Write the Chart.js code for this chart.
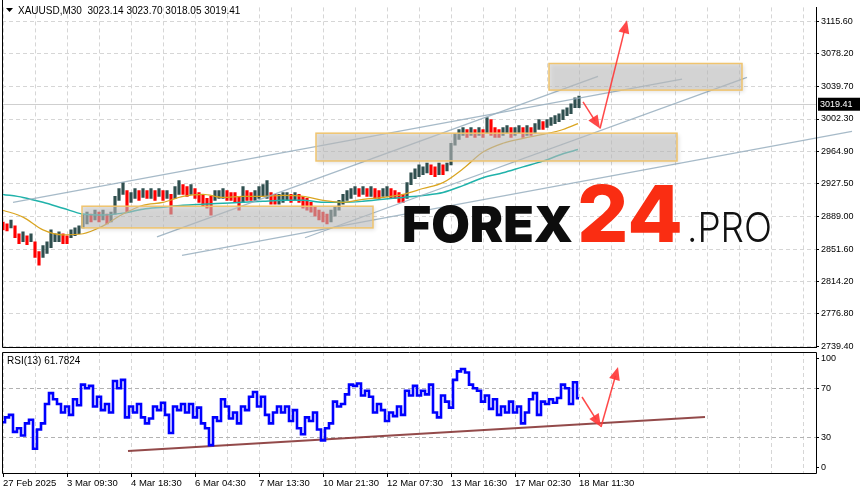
<!DOCTYPE html>
<html>
<head>
<meta charset="utf-8">
<script src="https://cdn.jsdelivr.net/npm/chart.js@4.4.1/dist/chart.umd.min.js"></script>
<style>
html, body { margin: 0; padding: 0; background: #fff; }
#wrap { position: relative; width: 863px; height: 494px; overflow: hidden; }
#priceChart { position: absolute; left: 0; top: 0; }
#rsiChart { position: absolute; left: 0; top: 349px; }
</style>
</head>
<body>
<div id="wrap">
  <canvas id="priceChart" width="863" height="356"></canvas>
  <canvas id="rsiChart" width="863" height="145"></canvas>
</div>
<script>
// one sample every 4 thirty-minute bars
const barStep = 4;
const priceHigh = [
  2883.0, 2880.8, 2885.3, 2878.5, 2869.4, 2871.6, 2867.1, 2869.4, 2860.2, 2848.8,
  2855.7, 2860.2, 2873.9, 2869.4, 2871.6, 2869.4, 2867.1, 2873.9, 2876.2, 2878.5,
  2892.2, 2894.4, 2892.2, 2896.7, 2894.4, 2896.7, 2892.2, 2894.4, 2912.7, 2921.8,
  2928.6, 2919.5, 2917.2, 2921.8, 2919.5, 2921.8, 2919.5, 2921.8, 2919.5, 2921.8,
  2919.5, 2919.5, 2915.0, 2924.1, 2930.9, 2926.4, 2924.1, 2926.4, 2921.8, 2917.2,
  2915.0, 2910.4, 2912.7, 2919.5, 2919.5, 2921.8, 2919.5, 2917.2, 2917.2, 2912.7,
  2924.1, 2919.5, 2917.2, 2919.5, 2924.1, 2926.4, 2930.9, 2917.2, 2915.0, 2915.0,
  2917.2, 2917.2, 2915.0, 2917.2, 2915.0, 2912.7, 2910.4, 2905.8, 2901.3, 2896.7,
  2894.4, 2892.2, 2896.7, 2901.3, 2908.1, 2915.0, 2919.5, 2921.8, 2924.1, 2921.8,
  2924.1, 2921.8, 2924.1, 2921.8, 2919.5, 2921.8, 2924.1, 2921.8, 2919.5, 2917.2,
  2915.0, 2928.6, 2940.0, 2944.6, 2949.2, 2946.9, 2951.4, 2949.2, 2946.9, 2951.4,
  2949.2, 2951.4, 2974.2, 2985.6, 2990.2, 2992.5, 2990.2, 2992.5, 2990.2, 2992.5,
  2990.2, 3003.9, 3001.6, 2992.5, 2990.2, 2992.5, 2994.8, 2992.5, 2992.5, 2994.8,
  2992.5, 2994.8, 2992.5, 2997.0, 3001.6, 2999.3, 3001.6, 3003.9, 3006.2, 3008.4,
  3013.0, 3015.3, 3019.8, 3026.7, 3029.0
];
const priceLow = [
  2873.9, 2872.8, 2876.2, 2864.8, 2857.9, 2860.2, 2856.8, 2860.2, 2842.0, 2832.9,
  2842.0, 2846.6, 2853.4, 2860.2, 2860.2, 2857.9, 2857.9, 2864.8, 2867.1, 2869.4,
  2876.2, 2880.8, 2883.0, 2885.3, 2883.0, 2885.3, 2880.8, 2883.0, 2892.2, 2908.1,
  2915.0, 2894.4, 2905.8, 2910.4, 2908.1, 2911.5, 2910.4, 2910.4, 2908.1, 2912.7,
  2908.1, 2910.4, 2892.2, 2910.4, 2915.0, 2915.0, 2912.7, 2915.0, 2910.4, 2905.8,
  2901.3, 2899.0, 2891.0, 2908.1, 2910.4, 2910.4, 2908.1, 2908.1, 2905.8, 2896.7,
  2905.8, 2908.1, 2908.1, 2908.1, 2910.4, 2912.7, 2910.4, 2903.6, 2903.6, 2903.6,
  2905.8, 2908.1, 2905.8, 2908.1, 2905.8, 2899.0, 2896.7, 2894.4, 2889.9, 2885.3,
  2883.0, 2880.8, 2883.0, 2889.9, 2896.7, 2903.6, 2908.1, 2910.4, 2915.0, 2912.7,
  2915.0, 2912.7, 2912.7, 2910.4, 2910.4, 2912.7, 2912.7, 2910.4, 2910.4, 2905.8,
  2905.8, 2910.4, 2926.4, 2933.2, 2935.5, 2937.8, 2940.0, 2937.8, 2935.5, 2937.8,
  2937.8, 2942.3, 2949.2, 2972.0, 2978.8, 2983.4, 2981.1, 2983.4, 2981.1, 2983.4,
  2981.1, 2985.6, 2983.4, 2981.1, 2981.1, 2983.4, 2985.6, 2981.1, 2983.4, 2985.6,
  2981.1, 2983.4, 2983.4, 2985.6, 2990.2, 2990.2, 2992.5, 2994.8, 2997.0, 2999.3,
  3001.6, 3006.2, 3008.4, 3015.3, 3015.3
];
const rsiValues = [
  42, 46, 48, 34, 37, 31, 41, 44, 20, 36,
  41, 57, 66, 61, 57, 50, 55, 48, 61, 56,
  73, 70, 72, 55, 63, 52, 57, 50, 76, 70,
  77, 46, 55, 50, 57, 46, 41, 45, 55, 52,
  58, 48, 33, 55, 52, 57, 50, 57, 46, 54,
  41, 37, 23, 46, 43, 61, 55, 45, 50, 41,
  55, 52, 63, 67, 55, 63, 48, 41, 50, 55,
  50, 55, 43, 52, 37, 32, 46, 43, 50, 36,
  27, 37, 41, 59, 55, 57, 65, 73, 72, 74,
  64, 68, 63, 50, 57, 52, 43, 50, 47, 55,
  48, 68, 64, 72, 64, 68, 65, 73, 50, 46,
  64, 59, 54, 77, 84, 86, 83, 73, 70, 68,
  59, 64, 53, 61, 48, 55, 50, 59, 50, 55,
  41, 50, 61, 66, 48, 59, 57, 61, 58, 62,
  73, 70, 57, 75, 61.78
];

// moving averages, sampled on these bars
const maBars = [0, 20, 40, 60, 80, 100, 120, 140, 160, 180, 200, 220, 240, 260, 280,
  300, 320, 340, 360, 380, 400, 420, 440, 460, 480, 500, 520, 540, 560, 575];
const maFast = [2896.7, 2888.7, 2873.9, 2868.2, 2869.4, 2878.5, 2892.2, 2902.4, 2905.8, 2912.7,
  2915.0, 2911.5, 2912.7, 2912.7, 2913.8, 2912.7, 2908.1, 2905.8, 2909.3, 2911.5,
  2915.0, 2921.8, 2928.6, 2944.6, 2964.0, 2974.2, 2979.9, 2984.5, 2990.2, 2997.0];
const maSlow = [2915.0, 2911.5, 2905.8, 2899.0, 2892.2, 2891.0, 2893.3, 2897.9, 2900.1, 2902.4,
  2903.6, 2904.7, 2905.8, 2907.0, 2908.1, 2908.1, 2905.8, 2905.8, 2907.0, 2909.3,
  2911.5, 2913.8, 2917.2, 2925.2, 2934.3, 2940.0, 2946.9, 2953.5, 2962.0, 2966.9];

// price axis and time axis
const priceTicks = [2739.40, 2776.80, 2814.20, 2851.60, 2889.00, 2927.50, 2964.90, 3002.30, 3039.70, 3078.20, 3115.60];
const dateLabels = ['27 Feb 2025', '3 Mar 09:30', '4 Mar 18:30', '6 Mar 04:30', '7 Mar 13:30',
  '10 Mar 21:30', '12 Mar 07:30', '13 Mar 16:30', '17 Mar 02:30', '18 Mar 11:30'];
const gridStep = 32;
const rsiTicks = [0, 30, 70, 100];
const rsiLevels = [30, 70];

// quote line
const quote = [3023.14, 3023.70, 3018.05, 3019.41];
const rsiLast = 61.7824;

// drawn objects
const zoneStart = [79, 313, 546];
const zoneEnd = [370, 674, 739];
const zoneTop = [2901.3, 2985.9, 3066.6];
const zoneBottom = [2876.2, 2953.7, 3035.8];
const trendStart = [10, 154, 179, 302];
const trendEnd = [679, 595, 849, 744];
const trendFrom = [2905.8, 2865.9, 2844.3, 2864.8];
const trendTo = [3048.4, 3051.8, 2987.9, 3050.6];
const arrowBars = [580, 597, 624];
const arrowPrices = [3022.1, 2991.3, 3116.7];
const rsiArrowBars = [579, 598, 615];
const rsiArrowValues = [62.8, 38.0, 87.6];
const rsiTrendBars = [125, 702];
const rsiTrendValues = [18.2, 46.3];

const UP = '#2f4f4f';
const DOWN = '#ff0000';
const GRID = '#d6d6d6';
const ARROW = 'rgba(255,58,58,0.92)';
const FONT = 'Liberation Sans';

const gridBars = [];
for (let b = 0; b <= 800; b += gridStep) gridBars.push(b);

function labelFor(v) {
  const j = v / (gridStep * 2);
  return Number.isInteger(j) && j < dateLabels.length ? dateLabels[j] : '';
}

const candleData = priceHigh.map((hi, k) => ({ x: k * barStep, y: [priceLow[k], hi] }));
const candleColors = priceHigh.map((hi, k) => {
  if (k === 0) return DOWN;
  const mid = (hi + priceLow[k]) / 2;
  const prev = (priceHigh[k - 1] + priceLow[k - 1]) / 2;
  return mid >= prev ? UP : DOWN;
});

function drawArrow(ctx, x1, y1, x2, y2) {
  const a = Math.atan2(y2 - y1, x2 - x1);
  const len = 13, half = 5.5;
  ctx.save();
  ctx.strokeStyle = ARROW;
  ctx.fillStyle = ARROW;
  ctx.lineWidth = 1.5;
  ctx.beginPath();
  ctx.moveTo(x1, y1);
  ctx.lineTo(x2 - Math.cos(a) * len * 0.7, y2 - Math.sin(a) * len * 0.7);
  ctx.stroke();
  ctx.beginPath();
  ctx.moveTo(x2, y2);
  ctx.lineTo(x2 - len * Math.cos(a) + half * Math.sin(a), y2 - len * Math.sin(a) - half * Math.cos(a));
  ctx.lineTo(x2 - len * Math.cos(a) - half * Math.sin(a), y2 - len * Math.sin(a) + half * Math.cos(a));
  ctx.closePath();
  ctx.fill();
  ctx.restore();
}

function fitText(ctx, text, font, color, x, base, width) {
  ctx.save();
  ctx.font = font;
  const w = ctx.measureText(text).width;
  ctx.translate(x, base);
  ctx.scale(width / w, 1);
  ctx.fillStyle = color;
  ctx.textBaseline = 'alphabetic';
  ctx.fillText(text, 0, 0);
  ctx.restore();
}

function frame(chart, top) {
  const { ctx, chartArea: a } = chart;
  ctx.save();
  ctx.strokeStyle = '#000';
  ctx.lineWidth = 1;
  ctx.beginPath();
  ctx.moveTo(a.left + 0.5, top ? a.top + 0.5 : 0);
  ctx.lineTo(a.left + 0.5, a.bottom + 0.5);
  ctx.lineTo(a.right + 0.5, a.bottom + 0.5);
  ctx.lineTo(a.right + 0.5, a.top + 0.5);
  if (top) ctx.lineTo(a.left + 0.5, a.top + 0.5);
  ctx.stroke();
  ctx.restore();
}

const priceDecor = {
  id: 'priceDecor',
  beforeDatasetsDraw(chart) {
    const { ctx, chartArea: a, scales: { y } } = chart;
    const py = Math.round(y.getPixelForValue(quote[3])) + 0.5;
    ctx.save();
    ctx.strokeStyle = '#cfcfcf';
    ctx.lineWidth = 1;
    ctx.beginPath();
    ctx.moveTo(a.left, py);
    ctx.lineTo(a.right, py);
    ctx.stroke();
    ctx.restore();
  },
  afterDatasetsDraw(chart) {
    const { ctx, scales: { x, y } } = chart;
    // zones
    zoneStart.forEach((s, i) => {
      const l = x.getPixelForValue(s), r = x.getPixelForValue(zoneEnd[i]);
      const t = y.getPixelForValue(zoneTop[i]), b = y.getPixelForValue(zoneBottom[i]);
      ctx.save();
      ctx.shadowColor = 'rgba(0,0,0,0.22)';
      ctx.shadowBlur = 4;
      ctx.shadowOffsetX = 2;
      ctx.shadowOffsetY = 2;
      ctx.fillStyle = 'rgba(200,200,200,0.56)';
      ctx.fillRect(l, t, r - l, b - t);
      ctx.shadowColor = 'transparent';
      ctx.strokeStyle = '#f0c46e';
      ctx.lineWidth = 1.5;
      ctx.strokeRect(l, t, r - l, b - t);
      ctx.restore();
    });
    // arrows
    for (let i = 1; i < arrowBars.length; i++) {
      drawArrow(ctx, x.getPixelForValue(arrowBars[i - 1]), y.getPixelForValue(arrowPrices[i - 1]),
        x.getPixelForValue(arrowBars[i]), y.getPixelForValue(arrowPrices[i]));
    }
    // watermark
    fitText(ctx, 'FOREX', '900 49px Inter', '#0d0d0d', 402, 242, 171);
    fitText(ctx, '24', '800 79px Inter', '#fa2d12', 577, 242, 106);
    fitText(ctx, '.PRO', '300 41px Inter', '#111', 687, 242, 85);
  },
  afterDraw(chart) {
    const { ctx, chartArea: a, scales: { y } } = chart;
    frame(chart, false);
    // header
    ctx.save();
    ctx.fillStyle = '#000';
    ctx.beginPath();
    ctx.moveTo(6, 8);
    ctx.lineTo(13, 8);
    ctx.lineTo(9.5, 12);
    ctx.closePath();
    ctx.fill();
    ctx.font = '10px "' + FONT + '"';
    ctx.textBaseline = 'middle';
    ctx.fillText('XAUUSD,M30  ' + quote.map(v => v.toFixed(2)).join(' '), 18, 11);
    // bid tag
    const py = y.getPixelForValue(quote[3]);
    ctx.fillRect(a.right + 2, py - 6.5, 42, 13);
    ctx.fillStyle = '#fff';
    ctx.font = '9px "' + FONT + '"';
    ctx.fillText(quote[3].toFixed(2), a.right + 4, py + 0.5);
    ctx.restore();
  }
};

const rsiDecor = {
  id: 'rsiDecor',
  beforeDatasetsDraw(chart) {
    const { ctx, chartArea: a, scales: { y } } = chart;
    ctx.save();
    ctx.strokeStyle = '#b2b2b2';
    ctx.setLineDash([4, 3]);
    rsiLevels.forEach(v => {
      const py = Math.round(y.getPixelForValue(v)) + 0.5;
      ctx.beginPath();
      ctx.moveTo(a.left, py);
      ctx.lineTo(a.right, py);
      ctx.stroke();
    });
    ctx.restore();
  },
  afterDatasetsDraw(chart) {
    const { ctx, scales: { x, y } } = chart;
    for (let i = 1; i < rsiArrowBars.length; i++) {
      drawArrow(ctx, x.getPixelForValue(rsiArrowBars[i - 1]), y.getPixelForValue(rsiArrowValues[i - 1]),
        x.getPixelForValue(rsiArrowBars[i]), y.getPixelForValue(rsiArrowValues[i]));
    }
  },
  afterDraw(chart) {
    const { ctx, chartArea: a, scales: { y } } = chart;
    frame(chart, true);
    ctx.save();
    ctx.fillStyle = '#000';
    ctx.strokeStyle = '#000';
    ctx.font = '9px "' + FONT + '"';
    rsiTicks.forEach(v => {
      const py = Math.round(y.getPixelForValue(v)) + 0.5;
      let ly = py;
      if (v === 100) ly = py + 6;
      if (v === 0) ly = py - 6;
      ctx.beginPath();
      ctx.moveTo(a.right, ly);
      ctx.lineTo(a.right + 3, ly);
      ctx.stroke();
      ctx.textBaseline = 'middle';
      ctx.fillText(String(v), a.right + 5, ly);
    });
    ctx.font = '10px "' + FONT + '"';
    ctx.fillText('RSI(13) ' + rsiLast.toFixed(4), 7, a.top + 9);
    ctx.restore();
  }
};

new Chart(document.getElementById('priceChart'), {
  type: 'bar',
  data: {
    datasets: [
      { type: 'bar', data: candleData, backgroundColor: candleColors, borderWidth: 0, barThickness: 2.5, grouped: false, order: 6 },
      { type: 'line', data: maSlow.map((v, i) => ({ x: maBars[i], y: v })), borderColor: '#20b2aa', borderWidth: 1.5,
        pointRadius: 0, cubicInterpolationMode: 'monotone', order: 5 },
      { type: 'line', data: maFast.map((v, i) => ({ x: maBars[i], y: v })), borderColor: '#daa520', borderWidth: 1.2,
        pointRadius: 0, cubicInterpolationMode: 'monotone', order: 4 },
      ...trendStart.map((s, i) => ({
        type: 'line',
        data: [{ x: s, y: trendFrom[i] }, { x: trendEnd[i], y: trendTo[i] }],
        borderColor: 'rgba(150,174,190,0.85)', borderWidth: 1.3, pointRadius: 0, clip: false, order: 3
      }))
    ]
  },
  options: {
    responsive: false,
    animation: false,
    devicePixelRatio: 1,
    layout: { padding: { left: 2, top: 2, right: 0, bottom: 9 } },
    plugins: { legend: { display: false }, tooltip: { enabled: false } },
    scales: {
      x: {
        type: 'linear', min: -1, max: 813, offset: false,
        afterBuildTicks: s => { s.ticks = gridBars.map(v => ({ value: v })); },
        afterFit: s => { s.height = 0; },
        ticks: { display: false },
        grid: { color: GRID, drawTicks: false, offset: false },
        border: { display: false, dash: [4, 3] }
      },
      y: {
        position: 'right', min: 2738.26, max: 3131.56,
        afterBuildTicks: s => { s.ticks = priceTicks.map(v => ({ value: v })); },
        afterFit: s => { s.width = 47; },
        ticks: { autoSkip: false, padding: 2, color: '#000', font: { family: FONT, size: 9 }, callback: v => v.toFixed(2) },
        grid: { color: GRID, tickColor: '#000', tickLength: 3 },
        border: { display: true, color: '#000', dash: [4, 3] }
      }
    }
  },
  plugins: [priceDecor]
});

new Chart(document.getElementById('rsiChart'), {
  type: 'line',
  data: {
    datasets: [
      { data: rsiValues.map((v, k) => ({ x: k * barStep, y: v })), borderColor: '#0000ff', borderWidth: 2.6,
        pointRadius: 0, stepped: 'middle', order: 1 },
      { data: rsiTrendBars.map((b, i) => ({ x: b, y: rsiTrendValues[i] })), borderColor: 'rgba(128,42,42,0.85)',
        borderWidth: 2, pointRadius: 0, order: 2 }
    ]
  },
  options: {
    responsive: false,
    animation: false,
    devicePixelRatio: 1,
    layout: { padding: { left: 2, top: 3, right: 47, bottom: 0 } },
    plugins: { legend: { display: false }, tooltip: { enabled: false } },
    scales: {
      x: {
        type: 'linear', min: -1, max: 813, offset: false,
        afterBuildTicks: s => { s.ticks = gridBars.map(v => ({ value: v })); },
        afterFit: s => { s.height = 21; },
        ticks: { autoSkip: false, maxRotation: 0, align: 'start', padding: 1, color: '#000',
          font: { family: FONT, size: 9.5 }, callback: v => labelFor(v) },
        grid: { color: GRID, tickLength: 4, tickColor: c => (c.tick && labelFor(c.tick.value)) ? '#000' : 'rgba(0,0,0,0)' },
        border: { display: false, dash: [4, 3] }
      },
      y: { display: false, min: 0, max: 100 }
    }
  },
  plugins: [rsiDecor]
});
</script>
</body>
</html>
